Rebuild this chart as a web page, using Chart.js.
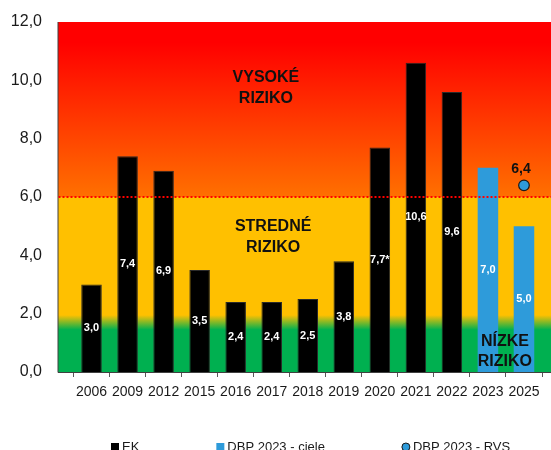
<!DOCTYPE html>
<html>
<head>
<meta charset="utf-8">
<script src="https://cdn.jsdelivr.net/npm/chart.js@4/dist/chart.umd.min.js"></script>
<style>
  html, body { margin: 0; padding: 0; background: #fff; overflow: hidden; }
  canvas { display: block; }
</style>
</head>
<body>
<canvas id="chart" width="551" height="450"></canvas>
<script>
// Values.
const categories = ['2006', '2009', '2012', '2015', '2016', '2017', '2018', '2019', '2020', '2021', '2022', '2023', '2025'];
const ek_values = [3.0, 7.4, 6.9, 3.5, 2.4, 2.4, 2.5, 3.8, 7.7, 10.6, 9.6, null, null];
const ek_notes = ['', '', '', '', '', '', '', '', '*', '', '', '', ''];
const dbp_targets = [null, null, null, null, null, null, null, null, null, null, null, 7.0, 5.0];
const dbp_rvs = [null, null, null, null, null, null, null, null, null, null, null, null, 6.4];
const y_ticks = [0, 2, 4, 6, 8, 10, 12];
const risk_threshold = 6.0;
const zone_high = ['VYSOKÉ', 'RIZIKO'];
const zone_mid = ['STREDNÉ', 'RIZIKO'];
const zone_low = ['NÍZKE', 'RIZIKO'];

const FONT = "'Liberation Sans', Arial, sans-serif";
const BLUE = '#2E9BDA';

const fmt = (v) => v.toFixed(1).replace('.', ',');

// Gradient backdrop (red -> orange above the threshold, amber -> green below).
const backdrop = {
  id: 'backdrop',
  beforeDraw(chart) {
    const {ctx, chartArea, scales: {y}} = chart;
    const left = chartArea.left - 15.5;
    const top = y.getPixelForValue(12);
    const bottom = y.getPixelForValue(0);
    const stop = (v) => (12 - v) / 12;
    const g = ctx.createLinearGradient(0, top, 0, bottom);
    g.addColorStop(0, '#FF0000');
    g.addColorStop(stop(11.3), '#FF0000');
    g.addColorStop(stop(risk_threshold) - 0.001, '#FF7000');
    g.addColorStop(stop(risk_threshold), '#FFC000');
    g.addColorStop(stop(1.95), '#FFC000');
    g.addColorStop(stop(1.45), '#00B050');
    g.addColorStop(1, '#00B050');
    ctx.save();
    ctx.fillStyle = g;
    ctx.fillRect(left, top, chart.width - left, bottom - top);
    ctx.restore();
  },
  beforeDatasetsDraw(chart) {
    const {ctx, chartArea, scales: {y}} = chart;
    const left = chartArea.left - 15.5;
    ctx.save();
    ctx.strokeStyle = '#404040';
    ctx.lineWidth = 1;
    ctx.beginPath();
    ctx.moveTo(left, y.getPixelForValue(12));
    ctx.lineTo(left, y.getPixelForValue(0) + 0.5);
    ctx.lineTo(chart.width, y.getPixelForValue(0) + 0.5);
    ctx.stroke();
    ctx.restore();
  },
  afterDatasetsDraw(chart) {
    const {ctx, chartArea, scales: {x, y}} = chart;
    ctx.save();
    // dotted threshold line
    const ty = Math.round(y.getPixelForValue(risk_threshold));
    ctx.fillStyle = '#FF0000';
    for (let px = chartArea.left - 15; px < chart.width; px += 4) {
      ctx.fillRect(px, ty - 1, 2, 2);
    }

    // values inside the bars
    ctx.textAlign = 'center';
    ctx.textBaseline = 'middle';
    ctx.fillStyle = '#fff';
    ctx.font = `bold 11px ${FONT}`;
    [0, 1].forEach((di) => {
      const meta = chart.getDatasetMeta(di);
      const values = chart.data.datasets[di].data;
      meta.data.forEach((bar, i) => {
        if (values[i] == null) return;
        const note = di === 0 ? ek_notes[i] : '';
        ctx.fillText(fmt(values[i]) + note, bar.x, (bar.y + bar.base) / 2);
      });
    });

    // value above the RVS point
    ctx.fillStyle = '#111';
    ctx.font = `bold 14px ${FONT}`;
    const pmeta = chart.getDatasetMeta(2);
    pmeta.data.forEach((pt, i) => {
      if (dbp_rvs[i] == null) return;
      ctx.fillText(fmt(dbp_rvs[i]), pt.x - 3, pt.y - 16);
    });

    // risk zone captions
    ctx.font = `bold 16px ${FONT}`;
    const zones = [
      {lines: zone_high, at: 4.84, values: [10.1, 9.38]},
      {lines: zone_mid, at: 5.04, values: [4.97, 4.25]},
      {lines: zone_low, at: 11.47, values: [1.04, 0.36]},
    ];
    zones.forEach((z) => {
      const zx = x.getPixelForValue(z.at);
      z.lines.forEach((t, k) => ctx.fillText(t, zx, y.getPixelForValue(z.values[k])));
    });
    ctx.restore();
  },
  afterDraw(chart) {
    // legend row along the bottom edge (cut off by the frame like the original)
    const {ctx} = chart;
    const sets = chart.data.datasets;
    ctx.save();
    ctx.font = `13px ${FONT}`;
    ctx.textBaseline = 'alphabetic';
    ctx.textAlign = 'left';
    let lx = 111;
    const ly = 451;
    sets.forEach((ds, i) => {
      if (i === 2) {
        ctx.beginPath();
        ctx.arc(lx + 4, ly - 4, 4, 0, Math.PI * 2);
        ctx.fillStyle = ds.backgroundColor;
        ctx.fill();
        ctx.strokeStyle = '#1a1a1a';
        ctx.lineWidth = 1;
        ctx.stroke();
      } else {
        ctx.fillStyle = ds.backgroundColor;
        ctx.fillRect(lx, ly - 8, 8, 8);
      }
      ctx.fillStyle = '#1a1a1a';
      ctx.fillText(ds.label, lx + 11, ly);
      lx += 11 + ctx.measureText(ds.label).width + 77;
    });
    ctx.restore();
  },
};

new Chart(document.getElementById('chart'), {
  type: 'bar',
  data: {
    labels: categories,
    datasets: [
      {
        label: 'EK',
        data: ek_values,
        backgroundColor: '#000000',
        borderColor: '#2a2a2a',
        borderWidth: 1,
        grouped: false,
        barPercentage: 0.57,
        categoryPercentage: 1,
        order: 2,
      },
      {
        label: 'DBP 2023 - ciele',
        data: dbp_targets,
        backgroundColor: BLUE,
        grouped: false,
        barPercentage: 0.57,
        categoryPercentage: 1,
        order: 2,
      },
      {
        type: 'line',
        label: 'DBP 2023 - RVS',
        data: dbp_rvs,
        showLine: false,
        backgroundColor: BLUE,
        borderColor: '#1a1a1a',
        pointRadius: 5.3,
        pointBorderWidth: 1.2,
        order: 1,
      },
    ],
  },
  options: {
    responsive: false,
    devicePixelRatio: 1,
    animation: false,
    layout: { padding: { top: 22, right: 9, bottom: 0, left: 0 } },
    plugins: {
      legend: { display: false },
      tooltip: { enabled: false },
    },
    scales: {
      x: {
        offset: true,
        grid: {
          offset: true,
          drawOnChartArea: false,
          tickLength: 5,
          color: '#595959',
        },
        border: { display: false },
        ticks: {
          color: '#1a1a1a',
          padding: 6.5,
          maxRotation: 0,
          autoSkip: false,
          font: { family: FONT, size: 14 },
        },
        afterFit(scale) { scale.height = 78; },
      },
      y: {
        min: 0,
        max: 12,
        // invisible tick marks push the labels out past the drawn axis line
        grid: { display: false, drawTicks: true, tickLength: 31.5 },
        border: { display: false },
        afterBuildTicks(scale) { scale.ticks = y_ticks.map((v) => ({value: v})); },
        ticks: {
          color: '#1a1a1a',
          padding: 0,
          font: { family: FONT, size: 16 },
          callback: (v) => fmt(v),
        },
        afterFit(scale) { scale.width = 73.5; },
      },
    },
  },
  plugins: [backdrop],
});
</script>
</body>
</html>
